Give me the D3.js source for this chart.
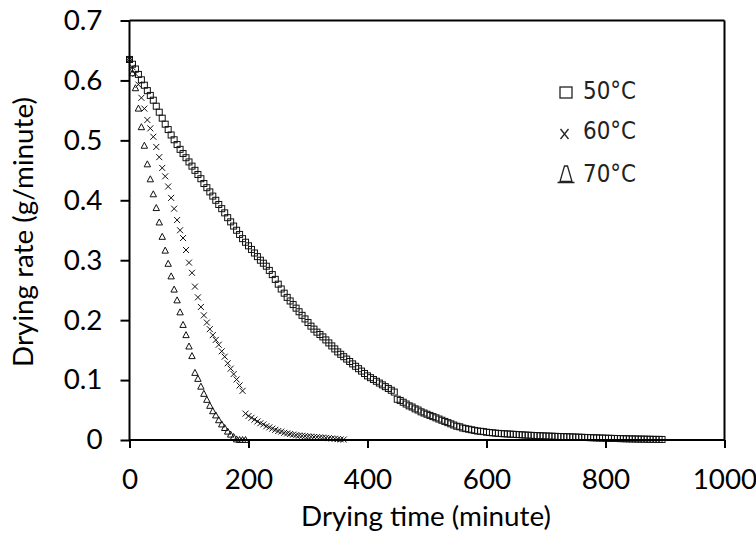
<!DOCTYPE html>
<html>
<head>
<meta charset="utf-8">
<script src="https://cdn.jsdelivr.net/npm/d3@7"></script>
<style>
  html, body { margin: 0; padding: 0; background: #fff; }
  svg { display: block; }
</style>
</head>
<body>
<svg id="chart" width="756" height="535"></svg>
<script>
// ---------------- data ----------------
const seriesNames = ["50°C", "60°C", "70°C"];
const timeStep = 5; // minutes between readings

// 50°C : readings from 0 to 895 min
const rate50 = [
  0.635,0.627,0.619,0.610,0.601,0.592,0.583,0.575,0.567,0.557,
  0.547,0.537,0.527,0.518,0.509,0.501,0.493,0.485,0.478,0.471,
  0.464,0.457,0.450,0.443,0.436,0.428,0.421,0.414,0.407,0.400,
  0.393,0.386,0.379,0.371,0.364,0.357,0.350,0.343,0.336,0.330,
  0.324,0.318,0.312,0.306,0.300,0.295,0.290,0.283,0.276,0.268,
  0.260,0.252,0.245,0.238,0.232,0.226,0.220,0.214,0.208,0.202,
  0.196,0.190,0.185,0.180,0.176,0.172,0.167,0.162,0.157,0.152,
  0.147,0.143,0.139,0.135,0.131,0.127,0.123,0.119,0.115,0.111,
  0.107,0.104,0.101,0.098,0.095,0.092,0.089,0.086,0.083,0.080,
  0.068,0.066,0.063,0.060,0.057,0.055,0.052,0.050,0.047,0.045,
  0.043,0.041,0.039,0.037,0.035,0.033,0.031,0.029,0.027,0.025,
  0.023,0.022,0.020,0.019,0.018,0.017,0.016,0.015,0.0145,0.014,
  0.013,0.0125,0.012,0.0115,0.011,0.0107,0.0104,0.0101,0.0098,0.0095,
  0.0092,0.0089,0.0086,0.0083,0.0080,0.0078,0.0075,0.0073,0.0071,0.0069,
  0.0067,0.0065,0.0063,0.0061,0.0059,0.0057,0.0056,0.0055,0.0053,0.0051,
  0.0049,0.0047,0.0045,0.0043,0.0041,0.0039,0.0037,0.0035,0.0034,0.0032,
  0.0030,0.0029,0.0027,0.0026,0.0025,0.0023,0.0022,0.0020,0.0019,0.0018,
  0.0017,0.0016,0.0015,0.0014,0.0013,0.0012,0.0011,0.0010,0.0010,0.0009
];

// 60°C : first run 0-190 min, second run 195-360 min
const time60 = [
  0,5,10,15,20,25,30,35,40,45,50,55,60,65,70,75,80,85,90,95,
  100,105,110,115,120,125,130,135,140,145,150,155,160,165,170,175,180,185,190,
  195,200,205,210,215,220,225,230,235,240,245,250,255,260,265,270,275,280,285,290,
  295,300,305,310,315,320,325,330,335,340,345,350,355,360
];
const rate60 = [
  0.635,0.622,0.611,0.593,0.571,0.553,0.534,0.520,0.506,0.489,
  0.472,0.454,0.440,0.423,0.404,0.386,0.367,0.350,0.337,0.317,
  0.296,0.279,0.256,0.238,0.222,0.208,0.196,0.185,0.175,0.167,
  0.159,0.148,0.139,0.128,0.119,0.110,0.101,0.091,0.082,
  0.044,0.040,0.037,0.034,0.031,0.028,0.026,0.023,0.021,0.019,
  0.017,0.015,0.014,0.012,0.011,0.010,0.009,0.008,0.0075,0.007,
  0.0065,0.006,0.0055,0.005,0.0047,0.0044,0.004,0.0035,0.003,0.0025,
  0.002,0.0015,0.001,0.0008
];

// 70°C : readings from 0 to 195 min
const rate70 = [
  0.635,0.612,0.587,0.553,0.522,0.491,0.460,0.435,0.410,0.387,
  0.363,0.339,0.316,0.294,0.273,0.251,0.233,0.213,0.192,0.175,
  0.156,0.140,0.112,0.102,0.089,0.077,0.067,0.057,0.048,0.041,
  0.033,0.026,0.020,0.014,0.009,0.005,0.001,0.0,0.0,0.0
];

const xTicks = [0, 200, 400, 600, 800, 1000];
const yTicks = [0, 0.1, 0.2, 0.3, 0.4, 0.5, 0.6, 0.7];
const yTickLabels = ["0", "0.1", "0.2", "0.3", "0.4", "0.5", "0.6", "0.7"];
const xTitle = "Drying time (minute)";
const yTitle = "Drying rate (g/minute)";

// ---------------- drawing ----------------
const svg = d3.select("#chart");
const x = d3.scaleLinear().domain([0, 1000]).range([129.5, 724.5]);
const y = d3.scaleLinear().domain([0, 0.7]).range([440, 20.5]);

const textFont = "Lato, 'Noto Sans', sans-serif";

// pick a font size so that the y title spans the same length as in the reference
const probe = svg.append("text").style("font-family", textFont).style("font-size", "100px").text(yTitle);
const probeLen = probe.node().getComputedTextLength();
probe.remove();
const fontSize = Math.max(18, Math.min(30, 100 * 270 / probeLen));

const pts50 = rate50.map((r, i) => ({t: i * timeStep, r}));
const pts60 = rate60.map((r, i) => ({t: time60[i], r}));
const pts70 = rate70.map((r, i) => ({t: i * timeStep, r}));

// markers
const gMarks = svg.append("g");
gMarks.selectAll("rect.s50").data(pts50).join("rect")
  .attr("class", "s50")
  .attr("x", d => x(d.t) - 3).attr("y", d => y(d.r) - 3)
  .attr("width", 6).attr("height", 6)
  .attr("fill", "none").attr("stroke", "#111").attr("stroke-width", 1);

gMarks.selectAll("path.s60").data(pts60).join("path")
  .attr("class", "s60")
  .attr("transform", d => `translate(${x(d.t)},${y(d.r)})`)
  .attr("d", "M-3,-3L3,3M-3,3L3,-3")
  .attr("fill", "none").attr("stroke", "#111").attr("stroke-width", 1);

gMarks.selectAll("path.s70").data(pts70).join("path")
  .attr("class", "s70")
  .attr("transform", d => `translate(${x(d.t)},${y(d.r)})`)
  .attr("d", "M0,-3.5L3.2,2.5L-3.2,2.5Z")
  .attr("fill", "none").attr("stroke", "#111").attr("stroke-width", 1);

// axes
const xAxis = d3.axisBottom(x).tickValues(xTicks).tickSize(8).tickPadding(0)
  .tickFormat(d3.format("d"));
const yAxis = d3.axisLeft(y).tickValues(yTicks).tickSize(9).tickPadding(18)
  .tickFormat((d, i) => yTickLabels[i]);

const gx = svg.append("g").attr("transform", `translate(0,${y(0)})`).call(xAxis);
const gy = svg.append("g").attr("transform", `translate(${x(0)},0)`).call(yAxis);
[gx, gy].forEach(g => {
  g.select(".domain").remove();
  g.selectAll(".tick line").attr("stroke", "#000").attr("stroke-width", 2);
  g.selectAll(".tick text").attr("fill", "#000")
    .style("font-family", textFont).style("font-size", fontSize + "px");
});
gx.selectAll(".tick text").attr("y", 49).attr("dy", null);

// frame (axis lines + top/right border)
const frame = svg.append("g").attr("stroke", "#000").attr("stroke-width", 2).attr("fill", "none");
frame.append("line").attr("x1", x(0)).attr("x2", x(1000)).attr("y1", y(0)).attr("y2", y(0));
frame.append("line").attr("x1", x(0)).attr("x2", x(0)).attr("y1", y(0.7)).attr("y2", y(0));
frame.append("line").attr("x1", x(0)).attr("x2", x(1000)).attr("y1", y(0.7)).attr("y2", y(0.7));
frame.append("line").attr("x1", x(1000)).attr("x2", x(1000)).attr("y1", y(0.7)).attr("y2", y(0));

// titles
svg.append("text").attr("x", 426).attr("y", 526).attr("text-anchor", "middle")
  .style("font-family", textFont).style("font-size", fontSize + "px").text(xTitle);
svg.append("text").attr("transform", "translate(33,232) rotate(-90)")
  .attr("text-anchor", "middle")
  .style("font-family", textFont).style("font-size", fontSize + "px").text(yTitle);

// legend
const legFont = "'DejaVu Sans Condensed', 'DejaVu Sans', sans-serif";
const leg = svg.append("g");
const legBase = [99, 139, 182];
leg.append("rect").attr("x", 560).attr("y", 87).attr("width", 12).attr("height", 11)
  .attr("fill", "none").attr("stroke", "#222").attr("stroke-width", 1.3);
leg.append("path").attr("transform", "translate(564.5,134)")
  .attr("d", "M-4,-5L4,5M-4,5L4,-5")
  .attr("fill", "none").attr("stroke", "#222").attr("stroke-width", 1.3);
leg.append("path").attr("transform", "translate(566,174)")
  .attr("d", "M-1.5,-8L1.5,-8L6,7.5L-6,7.5Z M-8.5,8.5L8.5,8.5")
  .attr("fill", "none").attr("stroke", "#222").attr("stroke-width", 1.3);
leg.selectAll("text.leg").data(seriesNames).join("text")
  .attr("class", "leg")
  .attr("x", 583).attr("y", (d, i) => legBase[i])
  .attr("textLength", 53).attr("lengthAdjust", "spacingAndGlyphs")
  .style("font-family", legFont).style("font-size", "24px").attr("fill", "#222")
  .text(d => d);
</script>
</body>
</html>
